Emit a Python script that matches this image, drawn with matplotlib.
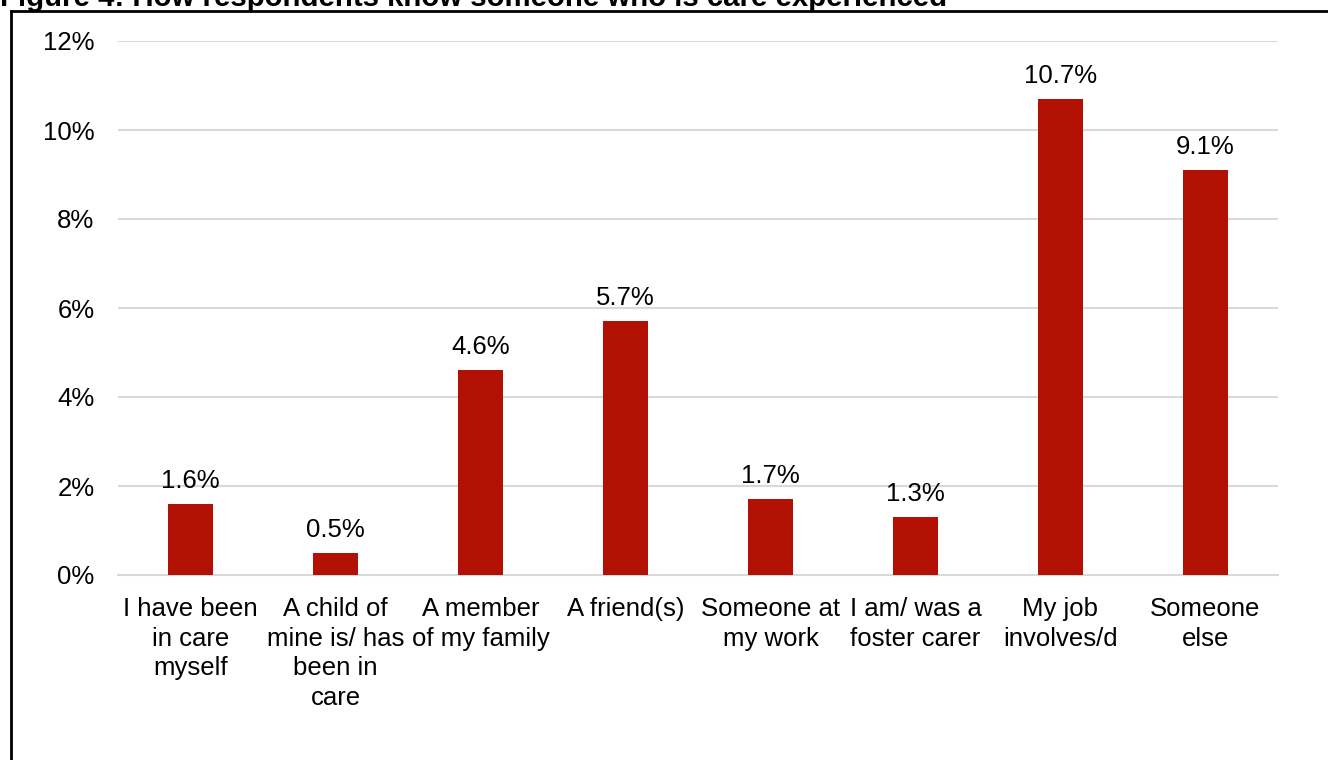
import matplotlib.pyplot as plt
from matplotlib.lines import Line2D
from matplotlib.ticker import FuncFormatter

plt.rcParams["font.family"] = ["Liberation Sans", "DejaVu Sans"]

# Survey results: share of respondents per relationship
categories = [
    "I have been\nin care\nmyself",
    "A child of\nmine is/ has\nbeen in\ncare",
    "A member\nof my family",
    "A friend(s)",
    "Someone at\nmy work",
    "I am/ was a\nfoster carer",
    "My job\ninvolves/d",
    "Someone\nelse",
]
values = [1.6, 0.5, 4.6, 5.7, 1.7, 1.3, 10.7, 9.1]
y_ticks = [0, 2, 4, 6, 8, 10, 12]

title = "Figure 4: How respondents know someone who is care experienced"
bar_color = "#B31004"
grid_color = "#D9D9D9"
font_size = 18.5

fig = plt.figure(figsize=(13.28, 7.60), dpi=100)
ax = fig.add_axes([118 / 1328, 1 - 575 / 760, 1160 / 1328, 534 / 760])

x = range(len(categories))
bars = ax.bar(x, values, width=0.31, color=bar_color, zorder=3)

for bar, v in zip(bars, values):
    ax.annotate(
        f"{v:.1f}%",
        (bar.get_x() + bar.get_width() / 2, v),
        xytext=(0, 11.5),
        textcoords="offset points",
        ha="center",
        va="baseline",
        fontsize=font_size,
    )

ax.set_xlim(-0.5, len(categories) - 0.5)
ax.set_ylim(0, 12)
ax.set_yticks(y_ticks)
ax.yaxis.set_major_formatter(FuncFormatter(lambda v, _: f"{v:.0f}%"))
ax.grid(axis="y", color=grid_color, linewidth=1.5, zorder=0)
ax.set_axisbelow(True)

ax.set_xticks(list(x))
ax.set_xticklabels(categories, fontsize=font_size, linespacing=1.29)
ax.tick_params(axis="x", length=0, pad=16)
ax.tick_params(axis="y", length=0, pad=17, labelsize=font_size)

for side in ["top", "right", "left"]:
    ax.spines[side].set_visible(False)
ax.spines["bottom"].set_color(grid_color)
ax.spines["bottom"].set_linewidth(1.5)

# Frame around the figure (left and top edges) and the caption above it
fig.add_artist(Line2D([11 / 1328, 11 / 1328], [0, 1 - 11 / 760], color="black", linewidth=2))
fig.add_artist(Line2D([11 / 1328, 1], [1 - 11 / 760, 1 - 11 / 760], color="black", linewidth=2))
fig.text(0.0, 1 - 6 / 760, title, fontsize=21.2, fontweight="bold", ha="left", va="baseline")

fig.savefig("out.png", dpi=100)
